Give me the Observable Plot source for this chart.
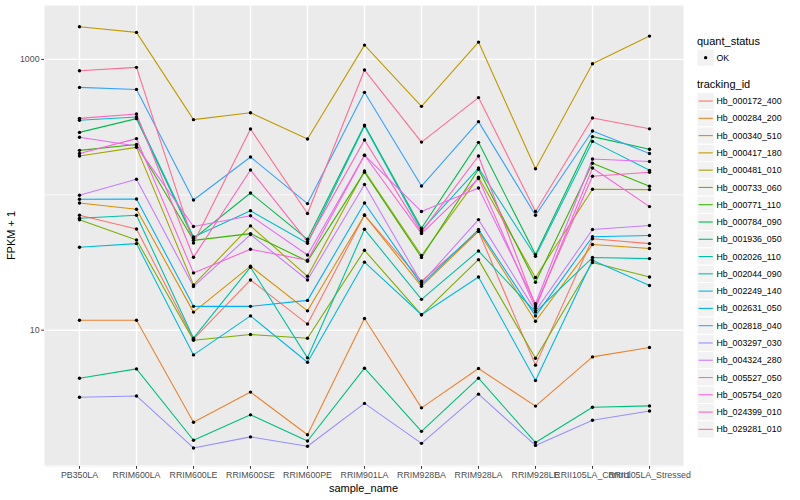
<!DOCTYPE html>
<html>
<head>
<meta charset="utf-8">
<script src="https://cdn.jsdelivr.net/npm/d3@7"></script>
<script src="https://cdn.jsdelivr.net/npm/@observablehq/plot@0.6"></script>
<style>
  body { margin: 0; background: #ffffff; }
  #chart { width: 800px; height: 500px; }
</style>
</head>
<body>
<div id="chart"></div>
<script>
// ---- data (FPKM + 1) ----
const samples = ["PB350LA","RRIM600LA","RRIM600LE","RRIM600SE","RRIM600PE","RRIM901LA","RRIM928BA","RRIM928LA","RRIM928LE","RRII105LA_Control","RRII105LA_Stressed"];
const trackingIds = ["Hb_000172_400","Hb_000284_200","Hb_000340_510","Hb_000417_180","Hb_000481_010","Hb_000733_060","Hb_000771_110","Hb_000784_090","Hb_001936_050","Hb_002026_110","Hb_002044_090","Hb_002249_140","Hb_002631_050","Hb_002818_040","Hb_003297_030","Hb_004324_280","Hb_005527_050","Hb_005754_020","Hb_024399_010","Hb_029281_010"];
const quantStatus = ["OK"];

const Hb_000172_400 = [70.6, 55.9, 8.58, 23.5, 11.1, 70.9, 23.0, 53.8, 5.52, 47.3, 43.6];
const Hb_000284_200 = [11.85, 11.85, 2.09, 3.49, 1.69, 12.2, 2.67, 5.21, 2.75, 6.35, 7.45];
const Hb_000340_510 = [87.0, 78.2, 13.6, 29.7, 13.9, 70.6, 21.1, 53.8, 11.65, 42.9, 40.1];
const Hb_000417_180 = [1743, 1582, 359, 404, 258, 1275, 450, 1342, 155.6, 929, 1486];
const Hb_000481_010 = [193.3, 224, 21.6, 58.9, 25.0, 149.8, 35.6, 134.6, 24.5, 109.8, 109.2];
const Hb_000733_060 = [65.4, 46.4, 8.44, 9.30, 8.73, 38.9, 13.0, 33.2, 6.21, 31.6, 24.7];
const Hb_000771_110 = [213, 235, 46.1, 51.7, 32.3, 147, 34.4, 154.2, 22.6, 170.8, 115.6];
const Hb_000784_090 = [289, 365, 47.5, 103.1, 46.9, 327, 56.6, 244, 36.2, 269, 217];
const Hb_001936_050 = [4.42, 5.18, 1.54, 2.37, 1.52, 5.24, 1.79, 4.42, 1.48, 2.70, 2.76];
const Hb_002026_110 = [67.1, 70.6, 8.73, 29.2, 6.25, 55.6, 16.9, 38.5, 13.6, 34.4, 33.8];
const Hb_002044_090 = [355, 375, 48.8, 76.2, 43.9, 322, 54.7, 157.7, 35.2, 248, 151.6];
const Hb_002249_140 = [41.0, 43.6, 6.57, 12.75, 5.80, 31.8, 13.0, 24.7, 4.25, 32.9, 21.4];
const Hb_002631_050 = [92.6, 93.1, 15.0, 15.0, 16.6, 87.0, 21.7, 55.4, 12.75, 49.0, 50.0];
const Hb_002818_040 = [621, 600, 91.5, 190, 86.1, 571, 116.1, 347, 70.6, 296, 202];
const Hb_003297_030 = [3.20, 3.27, 1.35, 1.63, 1.39, 2.88, 1.46, 3.37, 1.41, 2.16, 2.53];
const Hb_004324_280 = [99.2, 130.1, 21.0, 50.8, 23.5, 119.0, 22.3, 65.6, 13.9, 55.4, 59.3];
const Hb_005527_050 = [266, 229, 58.3, 70.0, 35.9, 196, 75.2, 112.2, 15.7, 184, 176];
const Hb_005754_020 = [202, 260, 26.5, 39.6, 32.9, 196, 51.7, 131.7, 14.5, 157.7, 81.8];
const Hb_024399_010 = [367, 395, 34.6, 152.4, 45.1, 254, 53.2, 193.3, 15.1, 136.9, 146.6];
const Hb_029281_010 = [825, 873, 44.1, 306, 72.7, 834, 245, 522, 75.2, 369, 307];

const seriesValues = [Hb_000172_400, Hb_000284_200, Hb_000340_510, Hb_000417_180, Hb_000481_010, Hb_000733_060, Hb_000771_110, Hb_000784_090, Hb_001936_050, Hb_002026_110, Hb_002044_090, Hb_002249_140, Hb_002631_050, Hb_002818_040, Hb_003297_030, Hb_004324_280, Hb_005527_050, Hb_005754_020, Hb_024399_010, Hb_029281_010];

const yMajorTicks = [10, 1000];
const yMinorTicks = [1, 100];

// ggplot2 default hue palette for 20 levels
const palette = ["#F8766D","#EA8331","#D89000","#C09B00","#A3A500","#7CAE00","#39B600","#00BB4E","#00BF7D","#00C1A3","#00BFC4","#00BAE0","#00B0F6","#35A2FF","#9590FF","#C77CFF","#E76BF3","#FA62DB","#FF62BC","#FF6C91"];

const rows = trackingIds.flatMap((id, i) =>
  samples.map((s, j) => ({ id, sample: s, value: seriesValues[i][j], status: quantStatus[0] }))
);

const font = "'Liberation Sans', Arial, Helvetica, sans-serif";

const svg = Plot.plot({
  width: 800,
  height: 500,
  marginLeft: 44,
  marginRight: 117,
  marginTop: 5,
  marginBottom: 34,
  style: { fontFamily: font, fontSize: "8.8px", background: "white", color: "#4D4D4D" },
  x: { type: "point", domain: samples, padding: 0.6, label: null },
  y: { type: "log", domain: [0.985, 2500], label: null },
  color: { domain: trackingIds, range: palette },
  marks: [
    Plot.frame({ fill: "#EBEBEB", stroke: "none" }),
    Plot.gridY({ ticks: yMinorTicks, stroke: "white", strokeOpacity: 1, strokeWidth: 0.7 }),
    Plot.gridY({ ticks: yMajorTicks, stroke: "white", strokeOpacity: 1, strokeWidth: 1.4 }),
    Plot.gridX({ ticks: samples, stroke: "white", strokeOpacity: 1, strokeWidth: 1.4 }),
    Plot.axisY({ ticks: yMajorTicks, tickSize: 2.75, tickPadding: 2.2, tickFormat: d => String(d), stroke: "#333333", fill: "#4D4D4D", label: null }),
    Plot.axisX({ ticks: samples, tickSize: 2.75, tickPadding: 2.2, stroke: "#333333", fill: "#4D4D4D", label: null }),
    Plot.line(rows, { x: "sample", y: "value", z: "id", stroke: "id", strokeWidth: 1.1 }),
    Plot.dot(rows, { x: "sample", y: "value", r: 1.7, fill: "black", stroke: "none" })
  ]
});

const s = d3.select(svg);

// axis titles
s.append("text")
  .attr("x", 363.5).attr("y", 492)
  .attr("text-anchor", "middle")
  .attr("font-size", 11).attr("fill", "black")
  .text("sample_name");
s.append("text")
  .attr("transform", "translate(15,235.5) rotate(-90)")
  .attr("text-anchor", "middle")
  .attr("font-size", 11).attr("fill", "black")
  .text("FPKM + 1");

// legend
const lx = 697, key = 17.28;
const leg = s.append("g").attr("text-anchor", "start");
leg.append("text").attr("x", lx).attr("y", 45).attr("text-anchor", "start").attr("font-size", 11).attr("fill", "black").text("quant_status");
quantStatus.forEach((q, i) => {
  const y0 = 49 + i * key;
  leg.append("rect").attr("x", lx).attr("y", y0).attr("width", key).attr("height", key)
    .attr("fill", "#F2F2F2").attr("stroke", "white").attr("stroke-width", 1);
  leg.append("circle").attr("cx", lx + key / 2).attr("cy", y0 + key / 2).attr("r", 1.7).attr("fill", "black");
  leg.append("text").attr("x", lx + key + 2.2).attr("y", y0 + key / 2).attr("dy", "0.35em")
    .attr("text-anchor", "start").attr("font-size", 8.8).attr("fill", "black").text(q);
});
leg.append("text").attr("x", lx).attr("y", 88).attr("text-anchor", "start").attr("font-size", 11).attr("fill", "black").text("tracking_id");
trackingIds.forEach((id, i) => {
  const y0 = 92.4 + i * key;
  leg.append("rect").attr("x", lx).attr("y", y0).attr("width", key).attr("height", key)
    .attr("fill", "#F2F2F2").attr("stroke", "white").attr("stroke-width", 1);
  leg.append("line").attr("x1", lx + 1.5).attr("x2", lx + key - 1.5)
    .attr("y1", y0 + key / 2).attr("y2", y0 + key / 2)
    .attr("stroke", palette[i]).attr("stroke-width", 1.1);
  leg.append("text").attr("x", lx + key + 2.2).attr("y", y0 + key / 2).attr("dy", "0.35em")
    .attr("text-anchor", "start").attr("font-size", 8.8).attr("fill", "black").text(id);
});

document.getElementById("chart").appendChild(svg);
</script>
</body>
</html>
